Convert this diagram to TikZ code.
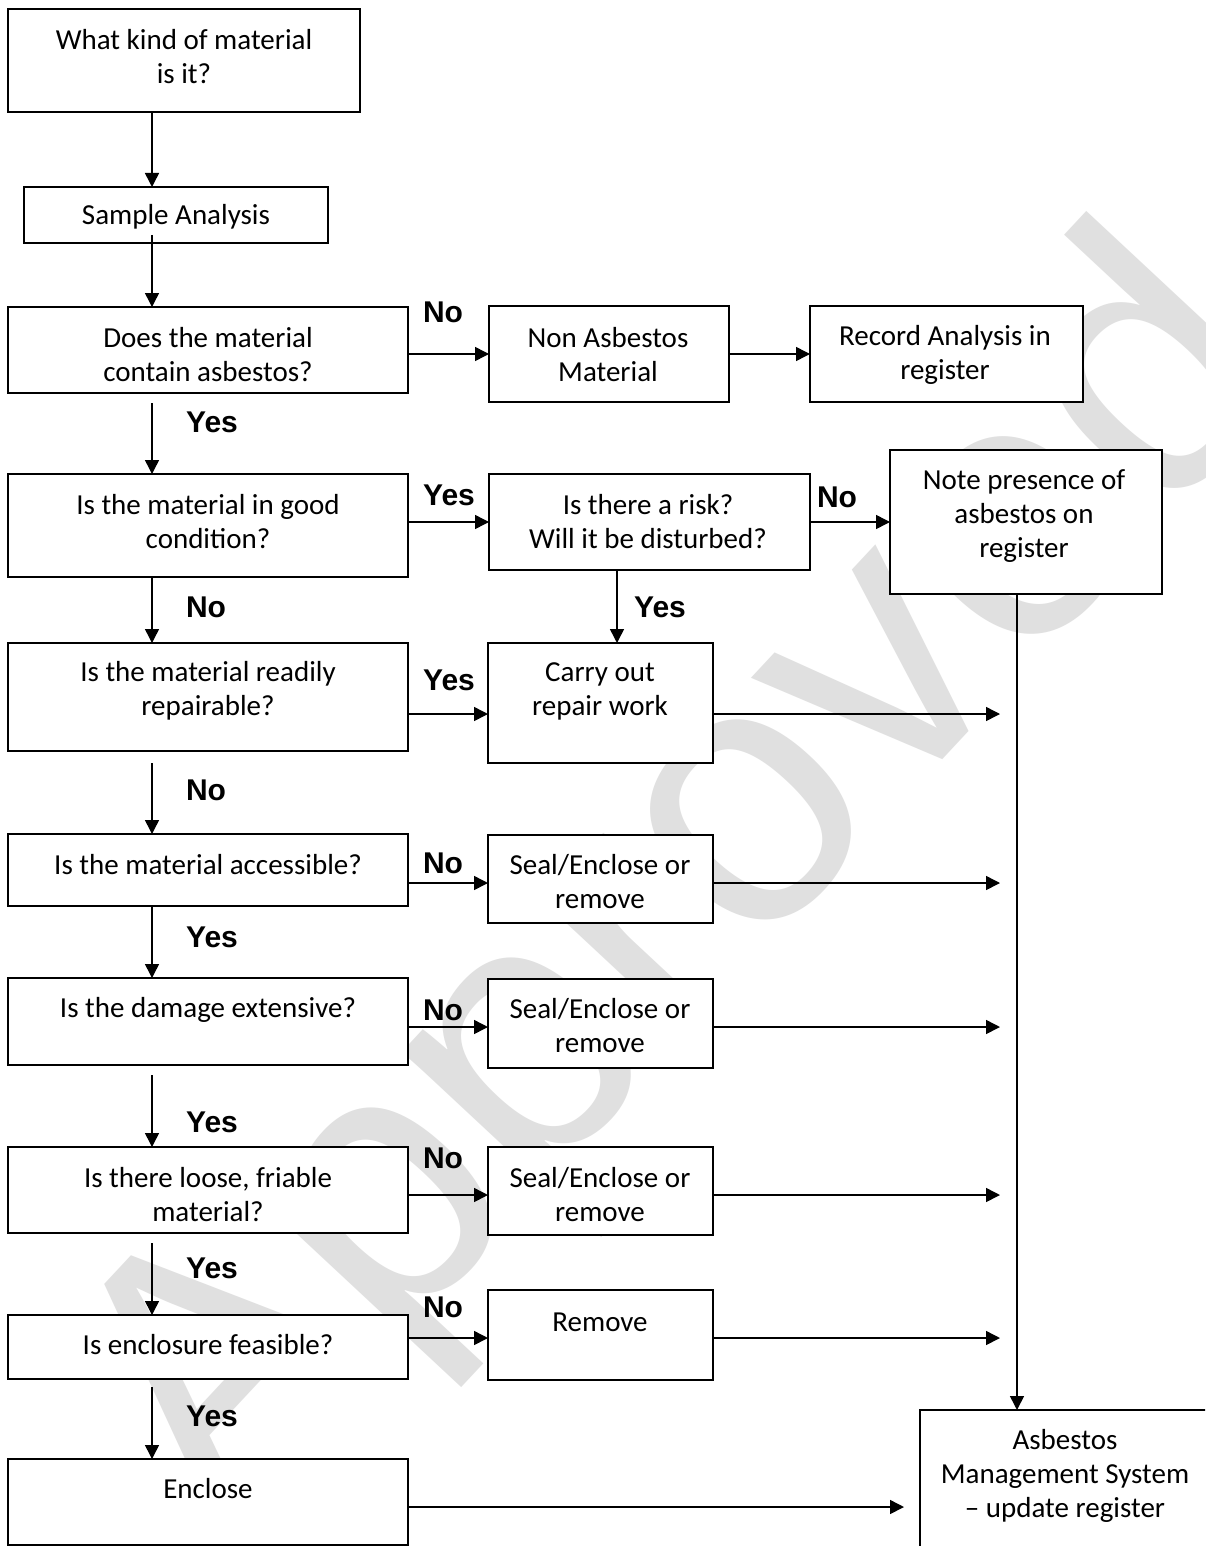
\documentclass[tikz,border=0pt]{standalone}
\usepackage{fontspec}
\setmainfont{Carlito}
\newfontfamily\lblfont{Liberation Sans}
\usetikzlibrary{arrows.meta,calc}
\tikzset{
  boxst/.style={draw=black, fill=white, line width=1.8pt, inner sep=0pt, outer sep=0pt},
  txt/.style={align=center, inner sep=0pt, font=\fontsize{29}{34}\selectfont},
  lbl/.style={inner sep=0pt, font=\lblfont\bfseries\fontsize{30}{34}\selectfont},
  arr/.style={line width=1.5pt, -{Triangle[length=14pt,width=14pt]}},
  wm/.style={text=black!12, inner sep=0pt, rotate=47, font=\lblfont\fontsize{370}{370}\selectfont}
}
\newcommand\bx[5]{\node[boxst, minimum width={(#4-#2)*1pt}, minimum height={(#5-#3)*1pt}] (#1) at ({(#2+#4)/2},{(#3+#5)/2}) {};}
\begin{document}
\begin{tikzpicture}[x=1pt,y=-1pt]
\useasboundingbox (0,0) rectangle (1205,1546);
\clip (0,0) rectangle (1205,1546);
\fill[white] (0,0) rectangle (1205,1546);
% watermark
\node[wm] (wmk) at (690,890) {Approved};
% boxes
\bx{A}{8}{9}{360}{112}
\bx{B}{24}{187}{328}{243}
\bx{C}{8}{307}{408}{393}
\bx{D}{489}{306}{729}{402}
\bx{E}{810}{306}{1083}{402}
\bx{F}{8}{474}{408}{577}
\bx{G}{489}{474}{810}{570}
\bx{H}{890}{450}{1162}{594}
\bx{I}{8}{643}{408}{751}
\bx{J}{488}{643}{713}{763}
\bx{K}{8}{834}{408}{906}
\bx{L}{488}{835}{713}{923}
\bx{M}{8}{978}{408}{1065}
\bx{N}{488}{979}{713}{1068}
\bx{O}{8}{1147}{408}{1233}
\bx{P}{488}{1147}{713}{1235}
\bx{Q}{8}{1315}{408}{1379}
\bx{R}{488}{1290}{713}{1380}
\bx{S}{8}{1459}{408}{1545}
\bx{T}{920}{1410}{1215}{1570}
% texts
\node[txt] (tA) at (184,57) {What kind of material\\is it?};
\node[txt] (tB) at (176,217) {Sample Analysis};
\node[txt] (tC) at (208,355) {Does the material\\contain asbestos?};
\node[txt] (tD) at (608,355) {Non Asbestos\\Material};
\node[txt] (tE) at (945,355) {Record Analysis in\\register};
\node[txt] (tF) at (208,522) {Is the material in good\\condition?};
\node[txt] (tG) at (648,522) {Is there a risk?\\Will it be disturbed?};
\node[txt] (tH) at (1024,516) {Note presence of\\asbestos on\\register};
\node[txt] (tI) at (208,691) {Is the material readily\\repairable?};
\node[txt] (tJ) at (600,691) {Carry out\\repair work};
\node[txt] (tK) at (208,865) {Is the material accessible?};
\node[txt] (tL) at (600,882) {Seal/Enclose or\\remove};
\node[txt] (tM) at (208,1010) {Is the damage extensive?};
\node[txt] (tN) at (600,1026) {Seal/Enclose or\\remove};
\node[txt] (tO) at (208,1195) {Is there loose, friable\\material?};
\node[txt] (tP) at (600,1195) {Seal/Enclose or\\remove};
\node[txt] (tQ) at (208,1345) {Is enclosure feasible?};
\node[txt] (tR) at (600,1322) {Remove};
\node[txt] (tS) at (208,1489) {Enclose};
\node[txt] (tT) at (1065,1476) {Asbestos\\Management System\\\textendash{} update register};
% coordinates
\coordinate (colx) at (152,0);
\coordinate (e1) at (1000,714);
\coordinate (e2) at (1000,883);
\coordinate (e3) at (1000,1027);
\coordinate (e4) at (1000,1195);
\coordinate (e5) at (1000,1338);
\coordinate (riskx) at (617,0);
\coordinate (notex) at (1017,0);
% left column arrows
\draw[arr] (A.south -| colx) -- (B.north -| colx);
\draw[arr] (B.south -| colx) ++(0,-8) -- (C.north -| colx);
\draw[arr] (C.south -| colx) ++(0,10) -- (F.north -| colx);
\draw[arr] (F.south -| colx) -- (I.north -| colx);
\draw[arr] (I.south -| colx) ++(0,12) -- (K.north -| colx);
\draw[arr] (K.south -| colx) -- (M.north -| colx);
\draw[arr] (M.south -| colx) ++(0,10) -- (O.north -| colx);
\draw[arr] (O.south -| colx) ++(0,10) -- (Q.north -| colx);
\draw[arr] (Q.south -| colx) ++(0,8) -- (S.north -| colx);
% horizontal arrows
\draw[arr] (C.east |- D.west) -- (D.west);
\draw[arr] (D.east) -- (E.west);
\draw[arr] (F.east |- G.west) -- (G.west);
\draw[arr] (G.east) -- (H.west);
\draw[arr] (G.south -| riskx) -- (J.north -| riskx);
\draw[arr] (I.east |- e1) -- (J.west |- e1);
\draw[arr] (J.east |- e1) -- (e1);
\draw[arr] (K.east |- e2) -- (L.west |- e2);
\draw[arr] (L.east |- e2) -- (e2);
\draw[arr] (M.east |- e3) -- (N.west |- e3);
\draw[arr] (N.east |- e3) -- (e3);
\draw[arr] (O.east |- e4) -- (P.west |- e4);
\draw[arr] (P.east |- e4) -- (e4);
\draw[arr] (Q.east |- e5) -- (R.west |- e5);
\draw[arr] (R.east |- e5) -- (e5);
\draw[arr] (H.south -| notex) -- (T.north -| notex);
\coordinate (e6) at (904,1507);
\draw[arr] (S.east |- e6) -- (e6);
% labels
\node[lbl] (l1) at (443,312) {No};
\node[lbl] (l2) at (212,422) {Yes};
\node[lbl] (l3) at (449,495) {Yes};
\node[lbl] (l4) at (837,497) {No};
\node[lbl] (l5) at (206,607) {No};
\node[lbl] (l6) at (660,607) {Yes};
\node[lbl] (l7) at (449,680) {Yes};
\node[lbl] (l8) at (206,790) {No};
\node[lbl] (l9) at (443,863) {No};
\node[lbl] (l10) at (212,937) {Yes};
\node[lbl] (l11) at (443,1010) {No};
\node[lbl] (l12) at (212,1122) {Yes};
\node[lbl] (l13) at (443,1158) {No};
\node[lbl] (l14) at (212,1268) {Yes};
\node[lbl] (l15) at (443,1307) {No};
\node[lbl] (l16) at (212,1416) {Yes};
\end{tikzpicture}
\end{document}
